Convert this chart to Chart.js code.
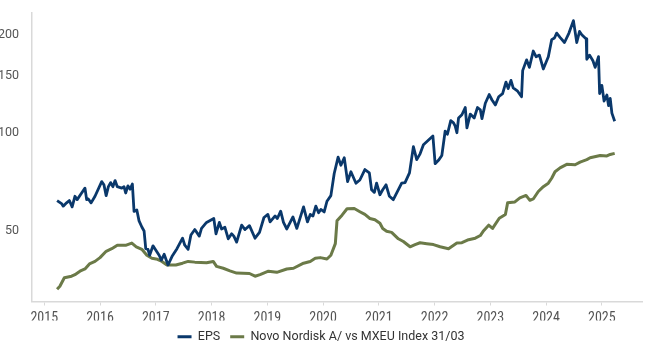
<!DOCTYPE html>
<html>
<head>
<meta charset="utf-8">
<script src="https://cdn.jsdelivr.net/npm/chart.js@4.4.1/dist/chart.umd.min.js"></script>
<style>
  html, body { margin: 0; padding: 0; background: #fff; }
  #c { display: block; }
</style>
</head>
<body>
<canvas id="c" width="650" height="350"></canvas>
<script>
// Axis ticks
const yearTicks = [2015, 2016, 2017, 2018, 2019, 2020, 2021, 2022, 2023, 2024, 2025];
const valueTicks = [50, 100, 150, 200];

// EPS (decimal year, value)
const epsDates = [
  2015.23, 2015.31, 2015.34, 2015.40, 2015.45, 2015.50, 2015.55, 2015.59, 2015.67, 2015.73,
  2015.76, 2015.79, 2015.84, 2015.91, 2016.03, 2016.07, 2016.11, 2016.15, 2016.19, 2016.23,
  2016.27, 2016.31, 2016.39, 2016.43, 2016.46, 2016.50, 2016.54, 2016.58, 2016.61, 2016.66,
  2016.70, 2016.75, 2016.79, 2016.82, 2016.86, 2016.89, 2016.95, 2016.99, 2017.06, 2017.10,
  2017.15, 2017.22, 2017.29, 2017.38, 2017.48, 2017.52, 2017.58, 2017.63, 2017.70, 2017.78,
  2017.82, 2017.91, 2018.04, 2018.08, 2018.14, 2018.18, 2018.24, 2018.30, 2018.36, 2018.40,
  2018.45, 2018.54, 2018.60, 2018.68, 2018.78, 2018.86, 2018.94, 2019.01, 2019.05, 2019.14,
  2019.18, 2019.24, 2019.29, 2019.35, 2019.46, 2019.53, 2019.65, 2019.72, 2019.77, 2019.82,
  2019.87, 2019.92, 2019.96, 2020.02, 2020.07, 2020.14, 2020.20, 2020.27, 2020.32, 2020.38,
  2020.44, 2020.50, 2020.59, 2020.66, 2020.75, 2020.83, 2020.87, 2020.92, 2020.96, 2021.02,
  2021.07, 2021.13, 2021.19, 2021.26, 2021.41, 2021.47, 2021.55, 2021.62, 2021.68, 2021.74,
  2021.80, 2021.97, 2022.01, 2022.07, 2022.13, 2022.19, 2022.23, 2022.29, 2022.34, 2022.37,
  2022.40, 2022.43, 2022.49, 2022.55, 2022.58, 2022.64, 2022.71, 2022.77, 2022.82, 2022.85,
  2022.91, 2022.98, 2023.03, 2023.09, 2023.15, 2023.22, 2023.28, 2023.32, 2023.37, 2023.41,
  2023.49, 2023.56, 2023.58, 2023.65, 2023.70, 2023.77, 2023.82, 2023.88, 2023.95, 2024.04,
  2024.10, 2024.15, 2024.19, 2024.25, 2024.33, 2024.41, 2024.49, 2024.55, 2024.60, 2024.64,
  2024.72, 2024.73, 2024.78, 2024.84, 2024.88, 2024.94, 2024.96, 2025.00, 2025.04, 2025.09,
  2025.12, 2025.15, 2025.18, 2025.23
];
const epsValues = [
  62.0, 60.7, 59.6, 61.0, 62.0, 59.3, 63.9, 62.4, 65.4, 67.7,
  62.4, 62.7, 61.0, 63.9, 70.9, 69.3, 64.2, 68.4, 70.4, 68.4,
  71.4, 68.4, 67.7, 68.4, 65.4, 68.8, 67.2, 69.7, 57.4, 58.0,
  53.7, 51.4, 50.0, 44.1, 43.9, 42.1, 45.0, 43.9, 42.1, 40.7,
  42.4, 39.3, 41.7, 44.1, 47.5, 45.2, 43.9, 48.6, 50.5, 48.2,
  50.9, 53.1, 54.6, 49.0, 53.1, 50.7, 51.3, 47.3, 49.0, 48.2,
  46.2, 52.1, 50.5, 51.9, 47.5, 49.5, 55.0, 56.2, 53.3, 55.6,
  54.6, 57.5, 53.1, 50.7, 55.2, 50.9, 59.3, 53.3, 56.2, 55.6,
  59.6, 56.9, 58.2, 57.2, 61.7, 64.2, 75.1, 84.3, 79.6, 83.9,
  70.9, 76.0, 70.1, 71.7, 77.2, 75.4, 66.9, 65.7, 70.1, 64.6,
  66.9, 69.3, 63.9, 62.4, 70.1, 70.4, 75.4, 90.8, 82.8, 86.3,
  92.0, 97.9, 80.5, 82.4, 85.3, 101.4, 99.1, 109.2, 107.4, 105.0,
  100.2, 111.2, 113.8, 119.8, 103.7, 114.3, 111.2, 119.8, 117.9, 110.7,
  123.4, 131.3, 126.3, 122.0, 129.2, 132.2, 143.4, 136.9, 145.1, 137.6,
  134.4, 129.2, 155.5, 167.8, 159.1, 178.6, 171.6, 173.5, 157.3, 171.6,
  193.6, 195.9, 202.8, 196.8, 189.7, 202.8, 221.5, 189.7, 205.2, 200.4,
  194.5, 168.5, 173.5, 166.7, 159.1, 171.7, 132.2, 140.1, 125.4, 130.8,
  121.4, 127.7, 115.1, 108.7
];

// Novo Nordisk relative to MXEU index (decimal year, value)
const relDates = [
  2015.23, 2015.28, 2015.36, 2015.49, 2015.55, 2015.64, 2015.73, 2015.81, 2015.91, 2016.00,
  2016.11, 2016.21, 2016.31, 2016.47, 2016.57, 2016.65, 2016.75, 2016.84, 2016.93, 2017.03,
  2017.11, 2017.20, 2017.36, 2017.48, 2017.58, 2017.70, 2017.91, 2018.03, 2018.09, 2018.21,
  2018.33, 2018.45, 2018.68, 2018.78, 2018.87, 2019.02, 2019.17, 2019.35, 2019.47, 2019.65,
  2019.77, 2019.86, 2019.95, 2020.07, 2020.14, 2020.22, 2020.25, 2020.34, 2020.43, 2020.56,
  2020.66, 2020.75, 2020.84, 2020.93, 2021.02, 2021.07, 2021.14, 2021.23, 2021.35, 2021.44,
  2021.56, 2021.65, 2021.74, 2021.86, 2021.98, 2022.10, 2022.25, 2022.40, 2022.49, 2022.61,
  2022.73, 2022.82, 2022.88, 2022.97, 2023.04, 2023.16, 2023.27, 2023.31, 2023.44, 2023.53,
  2023.64, 2023.71, 2023.77, 2023.86, 2023.95, 2024.04, 2024.10, 2024.16, 2024.25, 2024.37,
  2024.52, 2024.61, 2024.73, 2024.79, 2024.97, 2025.09, 2025.15, 2025.23
];
const relValues = [
  33.1, 33.8, 35.9, 36.3, 36.7, 37.6, 38.2, 39.6, 40.3, 41.4,
  43.3, 44.1, 45.2, 45.2, 45.9, 44.7, 43.9, 42.1, 41.2, 40.9,
  40.3, 39.3, 39.3, 39.8, 40.3, 40.1, 39.9, 40.3, 38.9, 38.4,
  37.7, 37.1, 37.0, 36.3, 36.7, 37.6, 37.3, 38.2, 38.4, 39.8,
  40.3, 41.2, 41.4, 41.0, 42.1, 45.7, 53.7, 55.9, 58.5, 58.6,
  57.3, 56.2, 54.6, 54.1, 52.8, 50.9, 49.9, 49.5, 47.3, 46.4,
  44.7, 45.4, 46.0, 45.7, 45.4, 44.7, 44.1, 45.9, 46.0, 47.0,
  47.5, 48.4, 50.1, 52.1, 50.9, 54.7, 56.2, 61.0, 61.4, 63.2,
  64.3, 62.1, 62.7, 66.1, 68.4, 70.1, 72.6, 76.0, 78.1, 80.1,
  79.9, 81.4, 82.8, 83.9, 85.3, 85.0, 85.9, 86.6
];

const NAVY = '#0a386b';
const OLIVE = '#6b7a48';
const AXIS = '#d9d9d9';
const TEXT = '#555555';

const toPoints = (xs, ys) => xs.map((x, i) => ({ x: x, y: ys[i] }));

new Chart(document.getElementById('c'), {
  type: 'line',
  data: {
    datasets: [
      {
        label: 'EPS',
        data: toPoints(epsDates, epsValues),
        borderColor: NAVY,
        backgroundColor: NAVY,
        borderWidth: 2.8,
        pointRadius: 0,
        tension: 0,
        borderJoinStyle: 'round'
      },
      {
        label: 'Novo Nordisk A/ vs MXEU Index 31/03',
        data: toPoints(relDates, relValues),
        borderColor: OLIVE,
        backgroundColor: OLIVE,
        borderWidth: 3,
        pointRadius: 0,
        tension: 0,
        borderJoinStyle: 'round'
      }
    ]
  },
  options: {
    responsive: false,
    animation: false,
    layout: { padding: { left: 0, right: 8, top: 9, bottom: -3 } },
    plugins: {
      tooltip: { enabled: false },
      legend: {
        position: 'bottom',
        labels: {
          boxWidth: 14,
          boxHeight: 3,
          padding: 10,
          color: '#333333',
          font: { family: 'Roboto, sans-serif', size: 12.5, lineHeight: 0.8 },
          generateLabels: (chart) =>
            Chart.defaults.plugins.legend.labels.generateLabels(chart).map(l => Object.assign(l, { lineWidth: 0 }))
        }
      }
    },
    scales: {
      x: {
        type: 'linear',
        min: 2014.78,
        max: 2025.72,
        afterBuildTicks: (s) => { s.ticks = yearTicks.map(v => ({ value: v })); },
        afterFit: (s) => { s.height = 19; },
        ticks: {
          autoSkip: false,
          maxRotation: 0,
          padding: 5,
          color: TEXT,
          font: { family: "'Liberation Sans Narrow', 'Roboto Condensed', Roboto, sans-serif", size: 14 },
          callback: (v) => String(v)
        },
        grid: { drawOnChartArea: false, drawTicks: true, tickLength: 4, color: AXIS, lineWidth: 1 },
        border: { color: AXIS, width: 1.5 }
      },
      y: {
        type: 'logarithmic',
        min: 30.35,
        max: 234.6,
        afterBuildTicks: (s) => { s.ticks = valueTicks.map(v => ({ value: v })); },
        afterFit: (s) => { s.width = 32; },
        ticks: {
          padding: 5,
          color: TEXT,
          font: { family: 'Roboto, sans-serif', size: 12.5 },
          callback: (v) => String(v)
        },
        grid: { display: false },
        border: { color: AXIS, width: 1.5 }
      }
    }
  }
});
</script>
</body>
</html>
